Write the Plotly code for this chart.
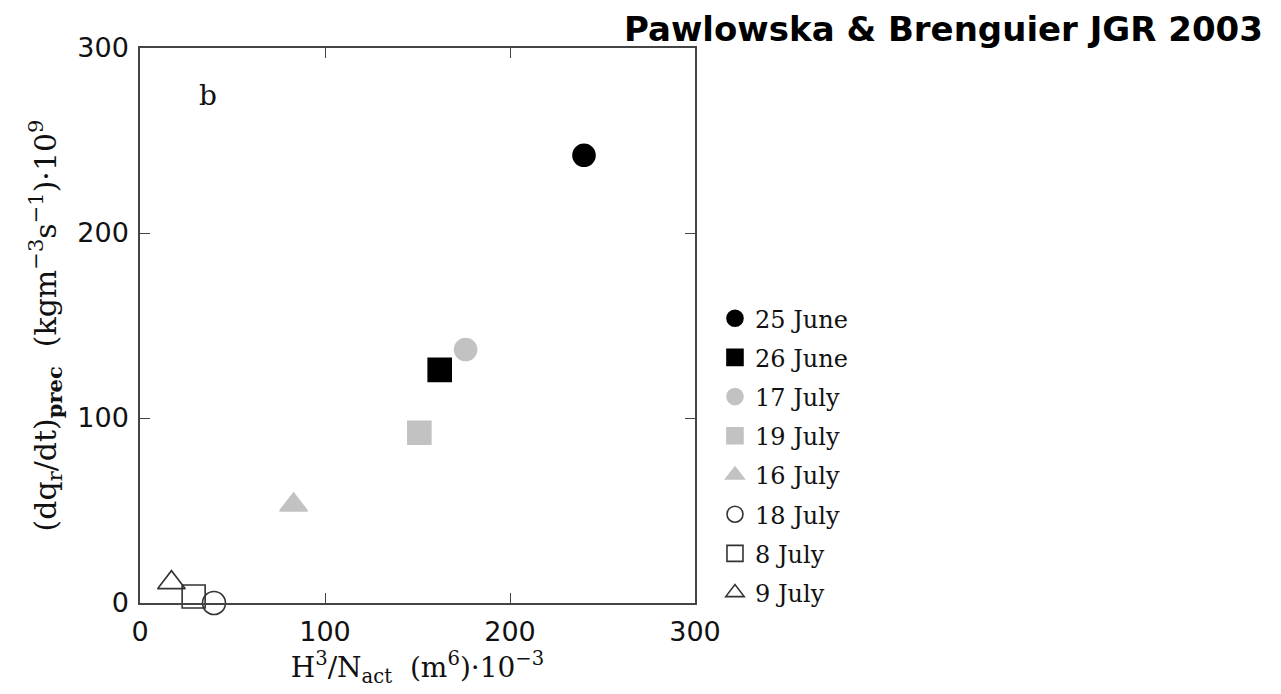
import plotly.graph_objects as go

# Flight days and their marker styles
days = ["25 June", "26 June", "17 July", "19 July", "16 July", "18 July", "8 July", "9 July"]
h3_over_nact = [240, 162, 176, 151, 83, 40, 29, 17]          # H^3/N_act (m^6)·10^-3
precip_rate = [242, 126, 137, 92, 53, 0, 3.5, 11]            # (dq_r/dt)_prec ·10^9
symbols = ["circle", "square", "circle", "square", "triangle-up",
           "circle-open", "square-open", "triangle-up-open"]
colors = ["#000000", "#000000", "#c2c2c2", "#c2c2c2", "#c2c2c2",
          "#333333", "#333333", "#333333"]
sizes = [22, 23, 22, 23, 24, 23, 23, 24]

x_ticks = [0, 100, 200, 300]
y_ticks = [0, 100, 200, 300]

fig = go.Figure()
for i, day in enumerate(days):
    fig.add_trace(go.Scatter(
        x=[h3_over_nact[i]], y=[precip_rate[i]],
        mode="markers", name=day, legendgroup=day,
        cliponaxis=False,
        marker=dict(symbol=symbols[i], size=sizes[i], color=colors[i],
                    line=dict(width=1.6, color=colors[i])),
    ))

axis_common = dict(
    range=[0, 300], showgrid=False, zeroline=False,
    showline=True, linecolor="#444444", linewidth=1.5, mirror="ticks",
    ticks="inside", ticklen=10, tickwidth=1, tickcolor="#444444",
    tickfont=dict(family="DejaVu Sans", size=27, color="#111111"),
)

fig.update_layout(
    width=1281, height=694,
    margin=dict(l=140, r=586, t=48, b=91),
    paper_bgcolor="white", plot_bgcolor="white",
    showlegend=True,
    legend=dict(
        x=1.036, y=0.553, xanchor="left", yanchor="top",
        font=dict(family="DejaVu Serif", size=24, color="#111111"),
        tracegroupgap=5, traceorder="grouped", bgcolor="rgba(0,0,0,0)",
    ),
    xaxis=dict(
        **axis_common, tickvals=x_ticks, ticktext=[str(v) for v in x_ticks],
        ticklabelstandoff=4,
        title=dict(text="H<sup>3</sup>/N<sub>act</sub>  (m<sup>6</sup>)·10<sup>−3</sup>",
                   font=dict(family="DejaVu Serif", size=28, color="#111111"),
                   standoff=2),
    ),
    yaxis=dict(
        **axis_common, tickvals=y_ticks, ticktext=[str(v) for v in y_ticks],
        ticklabelstandoff=4,
        title=dict(text="(dq<sub>r</sub>/dt)<sub><b>prec</b></sub>  (kgm<sup>−3</sup>s<sup>−1</sup>)·10<sup>9</sup>",
                   font=dict(family="DejaVu Serif", size=30, color="#111111"),
                   standoff=12),
    ),
    annotations=[
        dict(text="b", x=0.122, y=0.915, xref="paper", yref="paper",
             showarrow=False, xanchor="center", yanchor="middle",
             font=dict(family="DejaVu Serif", size=28, color="#111111")),
        dict(text="<b>Pawlowska & Brenguier JGR 2003</b>", x=2.027, y=1.034,
             xref="paper", yref="paper", showarrow=False,
             xanchor="right", yanchor="middle",
             font=dict(family="DejaVu Sans", size=34, color="#000000")),
    ],
)

fig.write_html("out.html")
